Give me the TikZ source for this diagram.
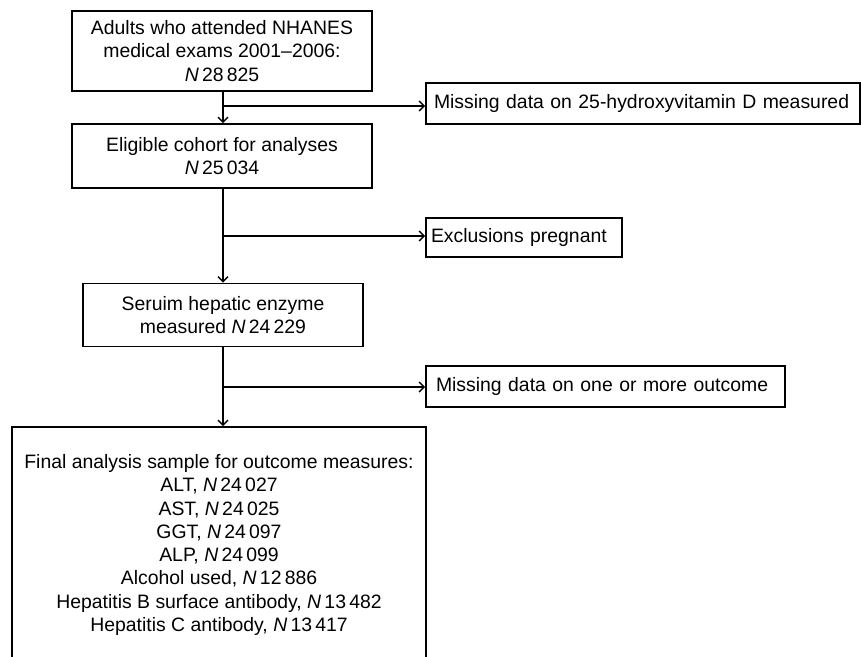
\documentclass[tikz,border=0pt]{standalone}
\usepackage{fontspec}
\setmainfont{Liberation Sans}
\usetikzlibrary{arrows.meta}
\begin{document}
\begin{tikzpicture}[x=1pt,y=-1pt,
  box/.style={draw, line width=1.6pt, align=center, inner sep=0pt,
    font=\fontsize{19.4}{23.3}\selectfont},
  sidebox/.style={draw, line width=1.6pt, align=left, inner xsep=8pt, inner ysep=0pt,
    font=\fontsize{19.4}{23.3}\selectfont},
  conn/.style={line width=1.4pt, -{Straight Barb[length=5pt,width=10pt,line width=1.4pt]}}]
\useasboundingbox (0,0) rectangle (862,656);
\begin{scope}
\clip (0,0) rectangle (862,656);
\node[box, minimum width=300, minimum height=80] (b1) at (222,51)
  {Adults who attended NHANES\\ medical exams 2001–2006:\\ \textit{N}\,28\,825};
\node[box, minimum width=300, minimum height=64] (b2) at (222,156)
  {Eligible cohort for analyses\\ \textit{N}\,25\,034};
\node[box, minimum width=280, minimum height=63] (b3) at (223,315)
  {Seruim hepatic enzyme\\ measured \textit{N}\,24\,229};
\node[box, minimum width=414, minimum height=236] (b4) at (219,545)
  {Final analysis sample for outcome measures:\\
   ALT, \textit{N}\,24\,027\\
   AST, \textit{N}\,24\,025\\
   GGT, \textit{N}\,24\,097\\
   ALP, \textit{N}\,24\,099\\
   Alcohol used, \textit{N}\,12\,886\\
   Hepatitis B surface antibody, \textit{N}\,13\,482\\
   Hepatitis C antibody, \textit{N}\,13\,417};
\end{scope}
\node[sidebox, text width=418, minimum height=41] (m1) at (643,103.5)
  {Missing data on 25-hydroxyvitamin D measured};
\node[sidebox, inner xsep=5pt, text width=186, minimum height=39] (ex) at (524,237.5)
  {Exclusions pregnant};
\node[sidebox, inner xsep=10pt, text width=339, minimum height=41] (m2) at (605.5,386.5)
  {Missing data on one or more outcome};
\coordinate (c1) at (223,106);
\coordinate (c2) at (223,236);
\coordinate (c3) at (223,387);
\draw[conn] (b1.south -| c1) -- (b2.north -| c1);
\draw[conn] (c1) -- (c1 -| m1.west);
\draw[conn] (b2.south -| c2) -- (b3.north -| c2);
\draw[conn] (c2) -- (c2 -| ex.west);
\draw[conn] (b3.south -| c3) -- (b4.north -| c3);
\draw[conn] (c3) -- (c3 -| m2.west);
\end{tikzpicture}
\end{document}
